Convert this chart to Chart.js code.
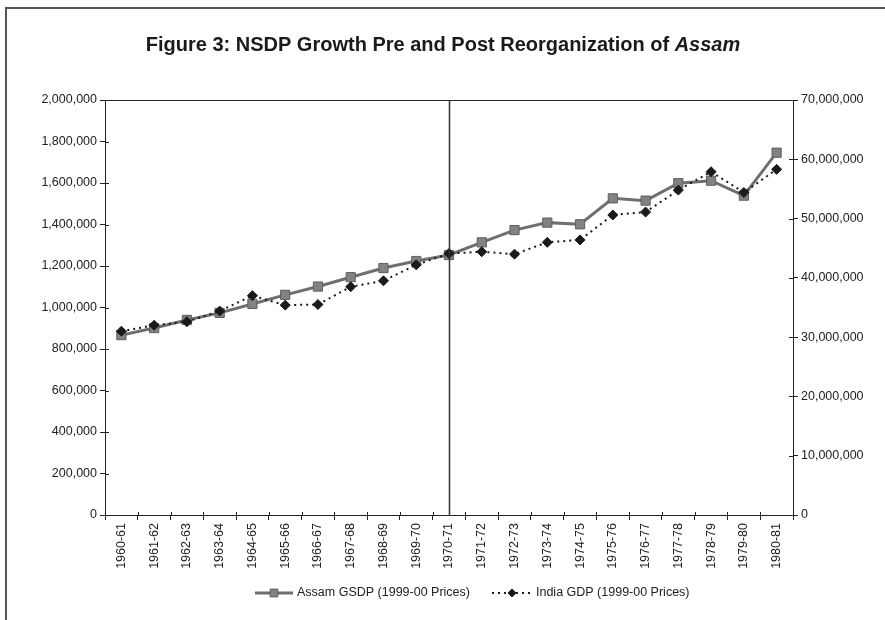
<!DOCTYPE html>
<html>
<head>
<meta charset="utf-8">
<script src="https://cdn.jsdelivr.net/npm/chart.js@4"></script>
<style>
  html, body { margin: 0; padding: 0; background: #fff; }
  #wrap { width: 885px; height: 620px; position: relative; }
</style>
</head>
<body>
<div id="wrap"><canvas id="c" width="885" height="620"></canvas></div>
<script>
// Fiscal years, 1960-61 to 1980-81
const years = ['1960-61','1961-62','1962-63','1963-64','1964-65','1965-66','1966-67',
  '1967-68','1968-69','1969-70','1970-71','1971-72','1972-73','1973-74','1974-75',
  '1975-76','1976-77','1977-78','1978-79','1979-80','1980-81'];

// Assam GSDP at 1999-00 prices (left axis)
const assamGSDP = [867000, 901000, 940000, 974000, 1017000, 1061000, 1101000,
  1146000, 1190000, 1224000, 1253000, 1314000, 1373000, 1409000, 1401000,
  1526000, 1515000, 1599000, 1611000, 1539000, 1746000];

// India GDP at 1999-00 prices (right axis)
const indiaGDP = [31000000, 32000000, 32600000, 34400000, 37000000, 35400000, 35500000,
  38500000, 39500000, 42200000, 44100000, 44400000, 44000000, 46000000, 46400000,
  50600000, 51100000, 54800000, 57900000, 54400000, 58300000];

// Year of reorganization, marked with a vertical rule
const reorgYear = '1970-71';

const titleMain = 'Figure 3: NSDP Growth Pre and Post Reorganization of ';
const titleItalic = 'Assam';
const legendNames = ['Assam GSDP (1999-00 Prices)', 'India GDP (1999-00 Prices)'];

const FONT = '"Liberation Sans", Arial, sans-serif';
const TICK_FONT = { family: FONT, size: 12.5 };
const fmt = v => Number(v).toLocaleString('en-US');

const framePlugin = {
  id: 'frame',
  beforeDraw(chart) {
    const ctx = chart.ctx;
    ctx.save();
    ctx.fillStyle = '#fff';
    ctx.fillRect(0, 0, chart.width, chart.height);
    // outer figure frame (top and left edges)
    ctx.strokeStyle = '#555';
    ctx.lineWidth = 2;
    ctx.beginPath();
    ctx.moveTo(6, chart.height);
    ctx.lineTo(6, 8);
    ctx.lineTo(chart.width, 8);
    ctx.stroke();
    // title, with the state name in italics
    ctx.fillStyle = '#1a1a1a';
    ctx.textBaseline = 'middle';
    ctx.font = 'bold 20px ' + FONT;
    const w1 = ctx.measureText(titleMain).width;
    ctx.font = 'italic bold 20px ' + FONT;
    const w2 = ctx.measureText(titleItalic).width;
    const x = 443 - (w1 + w2) / 2;
    ctx.textAlign = 'left';
    ctx.font = 'bold 20px ' + FONT;
    ctx.fillText(titleMain, x, 45);
    ctx.font = 'italic bold 20px ' + FONT;
    ctx.fillText(titleItalic, x + w1, 45);
    ctx.restore();
  },
  afterDatasetsDraw(chart) {
    const ctx = chart.ctx;
    const a = chart.chartArea;
    const xs = chart.scales.x;
    ctx.save();
    // top edge of plot box
    ctx.strokeStyle = '#222';
    ctx.lineWidth = 1;
    ctx.beginPath();
    ctx.moveTo(a.left, a.top + 0.5);
    ctx.lineTo(a.right, a.top + 0.5);
    ctx.stroke();
    // inner halves of tick marks
    const yl = chart.scales.y, yr = chart.scales.y1;
    ctx.beginPath();
    yl.ticks.forEach(t => {
      const py = Math.round(yl.getPixelForValue(t.value)) + 0.5;
      ctx.moveTo(a.left, py); ctx.lineTo(a.left + 4, py);
    });
    yr.ticks.forEach(t => {
      const py = Math.round(yr.getPixelForValue(t.value)) + 0.5;
      ctx.moveTo(a.right, py); ctx.lineTo(a.right - 4, py);
    });
    const half = (xs.getPixelForValue(1) - xs.getPixelForValue(0)) / 2;
    for (let i = 0; i <= years.length; i++) {
      const px = Math.round(xs.getPixelForValue(i) - half) + 0.5;
      ctx.moveTo(px, a.bottom); ctx.lineTo(px, a.bottom - 3);
    }
    ctx.stroke();
    // reorganization rule
    const rx = Math.round(xs.getPixelForValue(years.indexOf(reorgYear))) + 0.5;
    ctx.strokeStyle = '#333';
    ctx.lineWidth = 1.5;
    ctx.beginPath();
    ctx.moveTo(rx, a.top);
    ctx.lineTo(rx, a.bottom);
    ctx.stroke();
    ctx.restore();
  },
  afterDraw(chart) {
    // legend: line sample with marker, then series name
    const ctx = chart.ctx;
    const ds = chart.data.datasets;
    const y = 593;
    ctx.save();
    ctx.font = '12.5px ' + FONT;
    ctx.textBaseline = 'middle';
    ctx.textAlign = 'left';
    let x = 255;
    ds.forEach((d, i) => {
      const len = i === 0 ? 38 : 40;
      ctx.strokeStyle = d.borderColor;
      ctx.lineWidth = d.borderWidth;
      ctx.setLineDash(d.borderDash || []);
      ctx.beginPath();
      ctx.moveTo(x, y); ctx.lineTo(x + len, y);
      ctx.stroke();
      ctx.setLineDash([]);
      ctx.fillStyle = d.pointBackgroundColor;
      ctx.strokeStyle = d.pointBorderColor;
      ctx.lineWidth = 1;
      Chart.helpers.drawPoint(ctx, { pointStyle: d.pointStyle, radius: d.pointRadius - 1, borderWidth: 1, rotation: 0 }, x + len / 2, y);
      ctx.fillStyle = '#222';
      ctx.fillText(legendNames[i], x + len + 4, y);
      x += len + 4 + ctx.measureText(legendNames[i]).width + 22;
    });
    ctx.restore();
  }
};

new Chart(document.getElementById('c'), {
  type: 'line',
  data: {
    labels: years,
    datasets: [
      {
        label: legendNames[0],
        data: assamGSDP,
        yAxisID: 'y',
        borderColor: '#6f6f6f',
        borderWidth: 3,
        pointStyle: 'rect',
        pointRadius: 6.5,
        pointHoverRadius: 6.5,
        pointBackgroundColor: '#828282',
        pointBorderColor: '#5e5e5e',
        pointBorderWidth: 1,
        tension: 0,
        order: 2
      },
      {
        label: legendNames[1],
        data: indiaGDP,
        yAxisID: 'y1',
        borderColor: '#1a1a1a',
        borderWidth: 2,
        borderDash: [2, 4],
        pointStyle: 'rectRot',
        pointRadius: 5,
        pointHoverRadius: 5,
        pointBackgroundColor: '#1a1a1a',
        pointBorderColor: '#1a1a1a',
        pointBorderWidth: 1,
        tension: 0,
        order: 1
      }
    ]
  },
  options: {
    responsive: false,
    animation: false,
    layout: { padding: { top: 100, left: 0, right: 0, bottom: 0 } },
    plugins: {
      legend: { display: false },
      title: { display: false },
      tooltip: { enabled: false }
    },
    scales: {
      x: {
        type: 'category',
        offset: true,
        grid: { offset: true, drawOnChartArea: false, tickLength: 5, color: '#222' },
        border: { display: true, color: '#222', width: 1 },
        ticks: {
          minRotation: 90, maxRotation: 90, autoSkip: false,
          color: '#222', font: TICK_FONT, padding: 3
        },
        afterFit: s => { s.height = 105; }
      },
      y: {
        position: 'left',
        min: 0, max: 2000000,
        grid: { drawOnChartArea: false, tickLength: 5, color: '#222' },
        border: { display: true, color: '#222', width: 1 },
        ticks: { stepSize: 200000, color: '#222', font: TICK_FONT, padding: 3, callback: fmt },
        afterFit: s => { s.width = 105; }
      },
      y1: {
        position: 'right',
        min: 0, max: 70000000,
        grid: { drawOnChartArea: false, tickLength: 5, color: '#222' },
        border: { display: true, color: '#222', width: 1 },
        ticks: { stepSize: 10000000, color: '#222', font: TICK_FONT, padding: 3, callback: fmt },
        afterFit: s => { s.width = 92; }
      }
    }
  },
  plugins: [framePlugin]
});
</script>
</body>
</html>
